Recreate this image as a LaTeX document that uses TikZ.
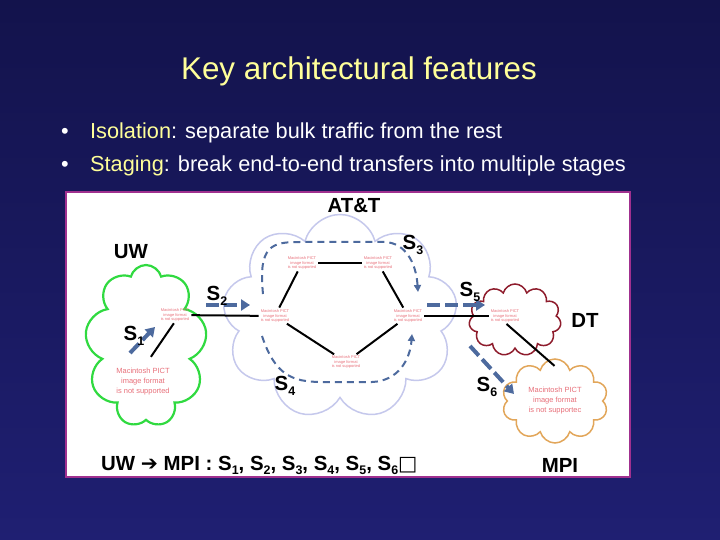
\documentclass[tikz,border=0pt]{standalone}
\usepackage{fontspec}
\setmainfont{Liberation Sans}
\newfontfamily\symfont{DejaVu Sans}
\usetikzlibrary{shapes.symbols,arrows.meta}
\definecolor{slidetop}{HTML}{13134C}
\definecolor{slidebottom}{HTML}{1F1F72}
\definecolor{keyword}{HTML}{FFFF99}
\definecolor{frame}{HTML}{A0308F}
\definecolor{attcloud}{HTML}{C5C8EC}
\definecolor{uwcloud}{HTML}{30DA40}
\definecolor{dtcloud}{HTML}{8E1C2C}
\definecolor{mpicloud}{HTML}{E2A65A}
\definecolor{pictred}{HTML}{E8707A}
\definecolor{stageblue}{HTML}{4D6A9E}
\newcommand{\stageno}[1]{\raisebox{-0.45ex}{\fontsize{12.5}{13}\selectfont #1}}

\begin{document}
\begin{tikzpicture}[x=1bp,y=-1bp]
        \tikzset{net/.style={cloud, cloud puffs=#1, cloud ignores aspect, draw, line width=1.5bp, inner sep=0pt},
            pict/.style={text=pictred, font=\fontsize{4}{4.6}\selectfont, align=center, inner sep=0pt},
            bigpict/.style={pict, font=\fontsize{7.5}{10}\selectfont},
            link/.style={draw, line width=2bp, shorten <=2bp, shorten >=2bp},
            stage/.style={draw=stageblue, line width=4bp, dash pattern=on 13bp off 5bp,
                -{Triangle[length=9bp,width=11bp,fill=stageblue]}},
            hop/.style={draw=stageblue, line width=2bp, dash pattern=on 7bp off 5bp,
                -{Triangle[length=7bp,width=7bp,fill=stageblue]}},
            tag/.style={font=\bfseries\fontsize{20.5}{24}\selectfont, inner sep=0pt},
            bullet/.style={text=white, font=\fontsize{21.8}{26}\selectfont, anchor=base west, inner sep=0pt}}
        \shade[top color=slidetop, bottom color=slidebottom] (0,0) rectangle (720,540);
        \useasboundingbox (0,0) rectangle (720,540);

        \node[text=keyword, font=\fontsize{31.5}{36}\selectfont, anchor=base, inner sep=0pt] (title) at (359,80) {Key architectural features};
        \node[bullet] (dot1) at (61,139) {•};
        \node[bullet] (dot2) at (61,172) {•};
        \node[bullet] (iso) at (90,139) {\textcolor{keyword}{Isolation}: separate bulk traffic from the rest};
        \node[bullet] (stg) at (90,172) {\textcolor{keyword}{Staging}: break end-to-end transfers into multiple stages};

        \draw[frame, line width=2.5bp, fill=white] (66,192) rectangle (630,477);

        \node[net=9, draw=attcloud, minimum width=235bp, minimum height=205bp] (att) at (340,317) {};
        \node[net=9, draw=uwcloud, line width=2.2bp, minimum width=122bp, minimum height=162bp] (uw) at (146,346) {};
        \node[net=11, draw=dtcloud, minimum width=92bp, minimum height=72bp] (dt) at (515,320) {};
        \node[net=10, draw=mpicloud, minimum width=106bp, minimum height=84bp, bigpict] (mpi) at (555,401) {Macintosh PICT\\image format\\is not supportec};

        \node[pict] (uwr) at (175,315) {Macintosh PICT\\image format\\is not supported};
        \node[pict] (a1) at (275,316) {Macintosh PICT\\image format\\is not supported};
        \node[pict] (a2) at (302,263) {Macintosh PICT\\image format\\is not supported};
        \node[pict] (a3) at (378,263) {Macintosh PICT\\image format\\is not supported};
        \node[pict] (a4) at (408,316) {Macintosh PICT\\image format\\is not supported};
        \node[pict] (a5) at (346,362) {Macintosh PICT\\image format\\is not supported};
        \node[pict] (dtr) at (505,316) {Macintosh PICT\\image format\\is not supported};
        \node[bigpict] (uwh) at (143,382) {Macintosh PICT\\image format\\is not supported};

        \draw[link, shorten <=14bp] (uwh.north) -- (uwr.south);
        \draw[link] (uwr) -- (a1);
        \draw[link] (a1) -- (a2);
        \draw[link] (a2) -- (a3);
        \draw[link] (a3) -- (a4);
        \draw[link] (a1) -- (a5);
        \draw[link] (a5) -- (a4);
        \draw[link] (a4) -- (dtr);
        \draw[link, shorten >=-9bp] (dtr.south) -- (mpi.100);

        \coordinate (s1a) at (130,353);
        \coordinate (s1b) at (155,327);
        \coordinate (s2a) at (206,305);
        \coordinate (s2b) at (250,305);
        \coordinate (s3a) at (263,294);
        \coordinate (s3b) at (418,292);
        \coordinate (s4a) at (262,336);
        \coordinate (s4b) at (412,334);
        \coordinate (s5a) at (427,305);
        \coordinate (s5b) at (485,305);
        \coordinate (s6a) at (470,346);
        \coordinate (s6b) at (514,394);

        \draw[stage] (s1a) -- (s1b);
        \draw[stage] (s2a) -- (s2b);
        \draw[hop] (s3a) .. controls (258,245) and (272,242) .. (300,242) -- (385,242) .. controls (405,243) and (416,262) .. (s3b);
        \draw[hop] (s4a) .. controls (275,375) and (292,382) .. (322,382) -- (372,382) .. controls (398,381) and (410,360) .. (s4b);
        \draw[stage] (s5a) -- (s5b);
        \draw[stage] (s6a) -- (s6b);

        \node[tag] (uwl) at (131,252) {UW};
        \node[tag] (attl) at (354,206) {AT\&T};
        \node[tag] (dtl) at (585,320) {DT};
        \node[tag] (mpil) at (560,465) {MPI};
        \node[tag] (s1) at (134,336) {S\stageno{1}};
        \node[tag] (s2) at (217,296) {S\stageno{2}};
        \node[tag] (s3) at (413,245) {S\stageno{3}};
        \node[tag] (s4) at (285,386) {S\stageno{4}};
        \node[tag] (s5) at (470,292) {S\stageno{5}};
        \node[tag] (s6) at (487,387) {S\stageno{6}};
        \node[tag, anchor=base west] (route) at (101,470) {UW {\symfont\mdseries ➔} MPI : S\stageno{1}, S\stageno{2}, S\stageno{3}, S\stageno{4}, S\stageno{5}, S\stageno{6}{\symfont\mdseries □}};
\end{tikzpicture}
\end{document}
